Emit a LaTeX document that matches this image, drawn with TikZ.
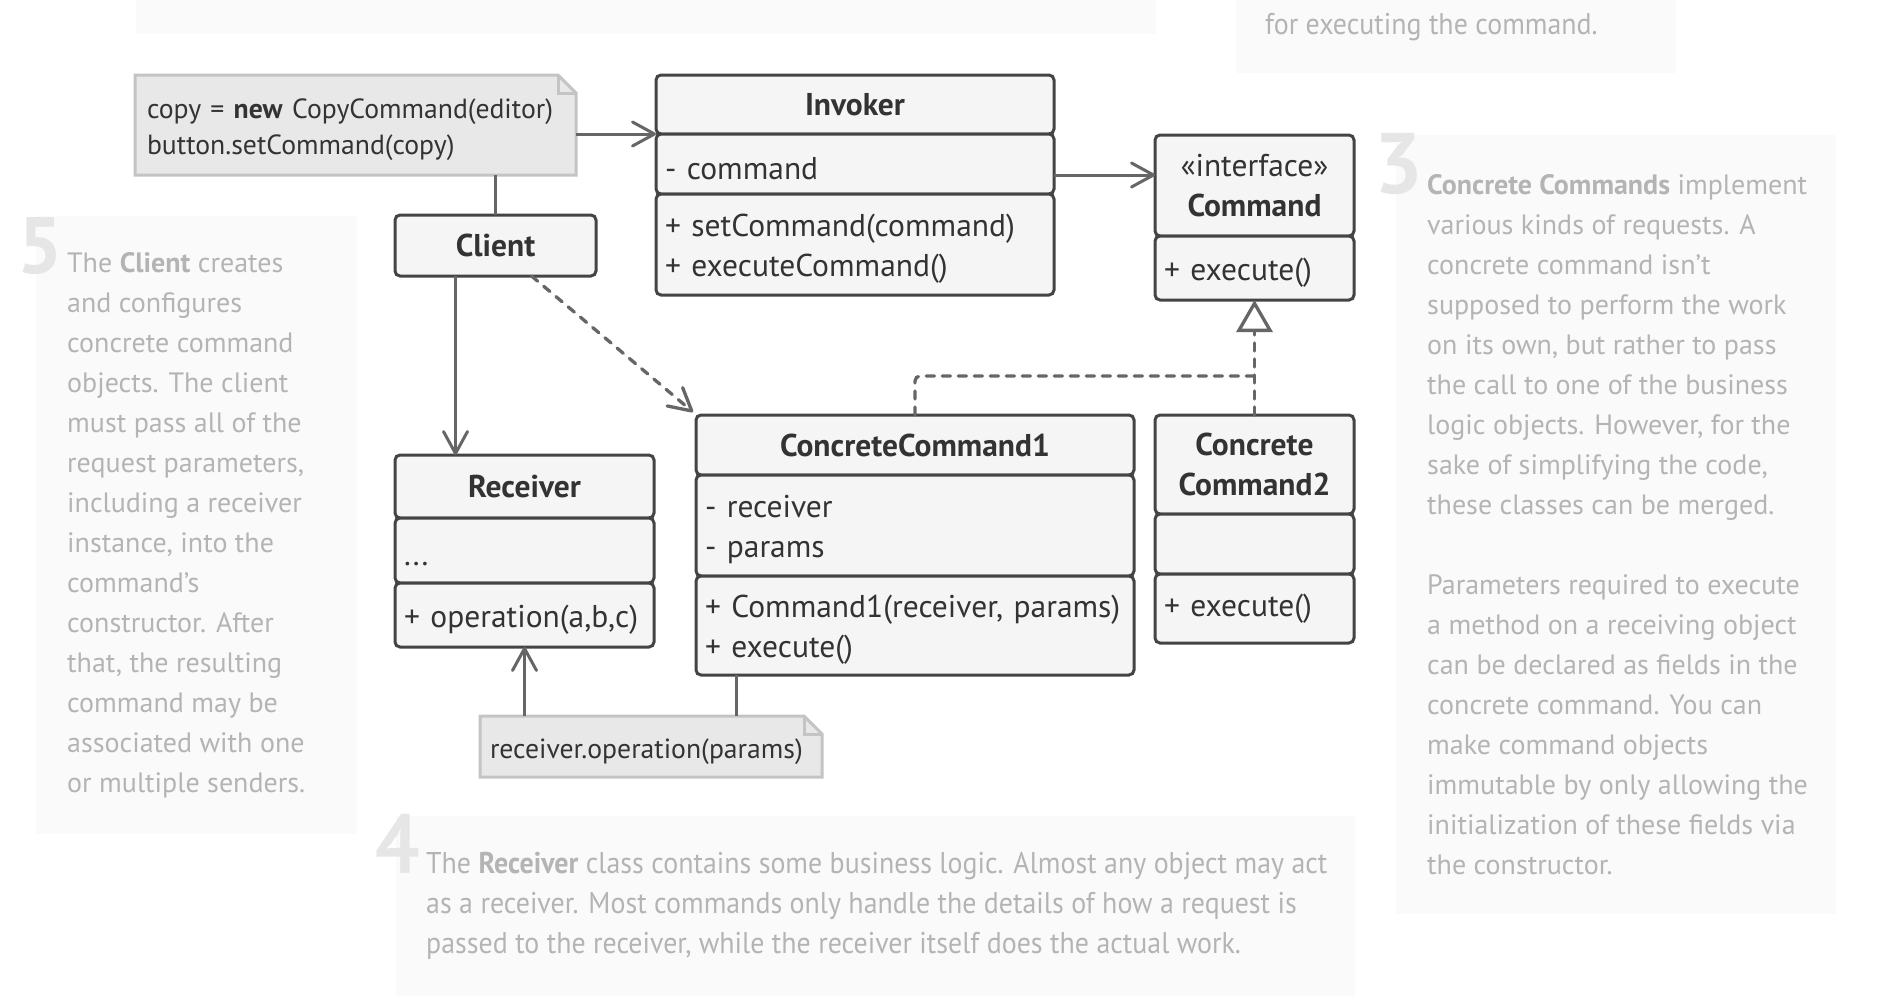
\documentclass[tikz,border=0pt]{standalone}
\usepackage{fontspec}
\setmainfont{PT Sans}
\newfontfamily\widefont{PT Sans}[FakeStretch=1.0]
\newfontfamily\narrowfont{PT Sans}[FakeStretch=0.93]
\usetikzlibrary{positioning,arrows.meta,backgrounds}
\definecolor{boxfill}{HTML}{F5F5F5}
\definecolor{boxline}{HTML}{444444}
\definecolor{notefill}{HTML}{E8E8E8}
\definecolor{noteline}{HTML}{C4C4C4}
\definecolor{arrline}{HTML}{666666}
\definecolor{inktext}{HTML}{333333}
\definecolor{panelfill}{HTML}{FAFAFA}
\definecolor{paneltext}{HTML}{B4B4B4}
\definecolor{digitgray}{HTML}{E6E6E6}

\begin{document}
\begin{tikzpicture}[x=1pt, y=-1pt,
    comp/.style={draw=boxline, fill=boxfill, line width=3pt, rounded corners=5pt, outer sep=0pt,
        inner xsep=9pt, inner ysep=0pt, text=inktext, align=left, font=\fontsize{31.5}{40}\selectfont},
    body/.style={comp, execute at begin node={\rule{0pt}{31pt}}},
    head/.style={comp, align=center, font=\bfseries\fontsize{31.5}{40}\selectfont},
    notebox/.style={inner xsep=12pt, inner ysep=0pt, outer sep=0pt, text=inktext, align=left,
        font=\fontsize{27.7}{36}\selectfont},
    noteshape/.style={draw=noteline, fill=notefill, line width=3pt},
    panel/.style={fill=panelfill, draw=none, inner sep=0pt, outer sep=0pt, anchor=north west},
    paneltxt/.style={text=paneltext, inner sep=0pt, align=left, anchor=west},
    digit/.style={text=digitgray, inner sep=0pt, anchor=north west, font=\bfseries\fontsize{86}{86}\selectfont},
    arr/.style={draw=arrline, line width=3pt, -{Straight Barb[length=22pt, width=24pt, round]}},
    dashline/.style={draw=arrline, line width=3.3pt, line cap=round, dash pattern=on 8pt off 8pt},
    realize/.style={dashline, -{Triangle[open, length=32pt, width=36pt]}}]

\begin{scope}[on background layer]
    \fill[white] (0,0) rectangle (1904,1004);
\end{scope}
\useasboundingbox (0,0) rectangle (1904,1004);

% side notes
\node[panel, minimum width=1020pt, minimum height=34pt] (ptopl) at (136,0) {};
\node[panel, minimum width=440pt, minimum height=73pt] (ptopr) at (1236,0) {};
\node[paneltxt, font=\narrowfont\fontsize{30}{40}\selectfont] (ttopr) at (1265,27) {for executing the command.};

\node[panel, minimum width=321pt, minimum height=618pt] (p5) at (36,216) {};
\node[digit, font=\bfseries\fontsize{80}{80}\selectfont] (d5) at ([xshift=-19pt, yshift=-1pt]p5.north west) {5};
\node[paneltxt, font=\widefont\fontsize{28}{40}\selectfont] (t5) at ([xshift=31pt]p5.west)
    {The \textbf{Client} creates\\and configures\\concrete command\\objects. The client\\must pass all of the\\request parameters,\\including a receiver\\instance, into the\\command’s\\constructor. After\\that, the resulting\\command may be\\associated with one\\or multiple senders.};

\node[panel, minimum width=440pt, minimum height=779pt] (p3) at (1396,135) {};
\node[digit] (d3) at ([xshift=-22pt, yshift=2pt]p3.north west) {3};
\node[paneltxt, font=\widefont\fontsize{28}{40}\selectfont] (t3) at ([xshift=31pt]p3.west)
    {\textbf{Concrete Commands} implement\\various kinds of requests. A\\concrete command isn’t\\supposed to perform the work\\on its own, but rather to pass\\the call to one of the business\\logic objects. However, for the\\sake of simplifying the code,\\these classes can be merged.\\[40pt]Parameters required to execute\\a method on a receiving object\\can be declared as fields in the\\concrete command. You can\\make command objects\\immutable by only allowing the\\initialization of these fields via\\the constructor.};

\node[panel, minimum width=959pt, minimum height=180pt] (p4) at (396,816) {};
\node[digit, font=\narrowfont\bfseries\fontsize{84}{84}\selectfont] (d4) at ([xshift=-21pt, yshift=2pt]p4.north west) {4};
\node[paneltxt, font=\narrowfont\fontsize{30}{40}\selectfont] (t4) at ([xshift=30pt]p4.west)
    {The \textbf{Receiver} class contains some business logic. Almost any object may act\\as a receiver. Most commands only handle the details of how a request is\\passed to the receiver, while the receiver itself does the actual work.};

% classes
\node[head, text width=380pt, minimum height=59pt, anchor=north west] (invhead) at (656,75) {Invoker};
\node[body, text width=380pt, minimum height=60pt, below=0pt of invhead] (invattr) {- command};
\node[body, text width=380pt, minimum height=101pt, below=0pt of invattr] (invmeth) {+ setCommand(command)\\+ executeCommand()};

\node[comp, align=center, text width=181pt, minimum height=101pt, anchor=north west] (cmdhead) at (1155,135) {«interface»\\\textbf{Command}};
\node[body, text width=181pt, minimum height=64pt, below=0pt of cmdhead] (cmdmeth) {+ execute()};

\node[head, text width=183pt, minimum height=61pt, anchor=north west] (client) at (395,215) {Client};

\node[head, text width=241pt, minimum height=63pt, anchor=north west] (rechead) at (395,455) {Receiver};
\node[body, text width=241pt, minimum height=65pt, below=0pt of rechead] (recattr) {...};
\node[body, text width=241pt, minimum height=64pt, below=0pt of recattr] (recmeth) {+ operation(a,b,c)};

\node[head, text width=420pt, minimum height=60pt, anchor=north west] (cc1head) at (696,415) {ConcreteCommand1};
\node[body, text width=420pt, minimum height=101pt, below=0pt of cc1head] (cc1attr) {- receiver\\- params};
\node[body, text width=420pt, minimum height=99pt, below=0pt of cc1attr] (cc1meth) {+ Command1(receiver, params)\\+ execute()};

\node[head, text width=181pt, minimum height=99pt, anchor=north west] (cc2head) at (1155,415) {Concrete\\Command2};
\node[comp, text width=181pt, minimum height=60pt, below=0pt of cc2head] (cc2attr) {};
\node[comp, text width=181pt, minimum height=69pt, below=0pt of cc2attr] (cc2meth) {+ execute()};

% notes
\node[notebox, text width=417pt, minimum height=100pt, anchor=north west] (note1) at (135,75)
    {\rule{0pt}{30pt}copy = \textbf{new} CopyCommand(editor)\\button.setCommand(copy)};
\node[notebox, inner xsep=10pt, text width=322pt, minimum height=61pt, anchor=north west] (note2) at (480,716)
    {\rule{0pt}{30pt}receiver.operation(params)};
\begin{scope}[on background layer]
    \foreach \n in {note1, note2} {
        \filldraw[noteshape] (\n.north west) -- ([xshift=-18pt]\n.north east) -- ([yshift=-18pt]\n.north east)
            -- (\n.south east) -- (\n.south west) -- cycle;
        \draw[noteshape, fill=none] ([xshift=-18pt]\n.north east) |- ([yshift=-18pt]\n.north east);
    }
\end{scope}

% connectors
\draw[arr] (note1.east |- invhead.south) -- (invhead.south west);
\draw[arr] ([yshift=-11pt]invattr.east) -- ([yshift=-11pt]invattr.east -| cmdhead.west);
\draw[draw=arrline, line width=3pt] (note1.south -| client.north) -- (client.north);
\draw[arr] ([xshift=-40pt]client.south) -- ([xshift=-40pt]client.south |- rechead.north);
\draw[arr, dashline] ([xshift=36pt]client.south) -- ([xshift=-3pt, yshift=3pt]cc1head.north west);
\coordinate (jn) at ([yshift=39pt]cc2head.north);
\draw[realize] (cc2head.north) -- (cmdmeth.south);
\draw[dashline, rounded corners=5pt] (cc1head.north) |- (jn);
\draw[draw=arrline, line width=3pt] ([xshift=40pt]cc1meth.south west) -- ([xshift=40pt]cc1meth.south west |- note2.north);
\draw[arr] (note2.north -| recmeth.south) -- (recmeth.south);
\end{tikzpicture}
\end{document}
